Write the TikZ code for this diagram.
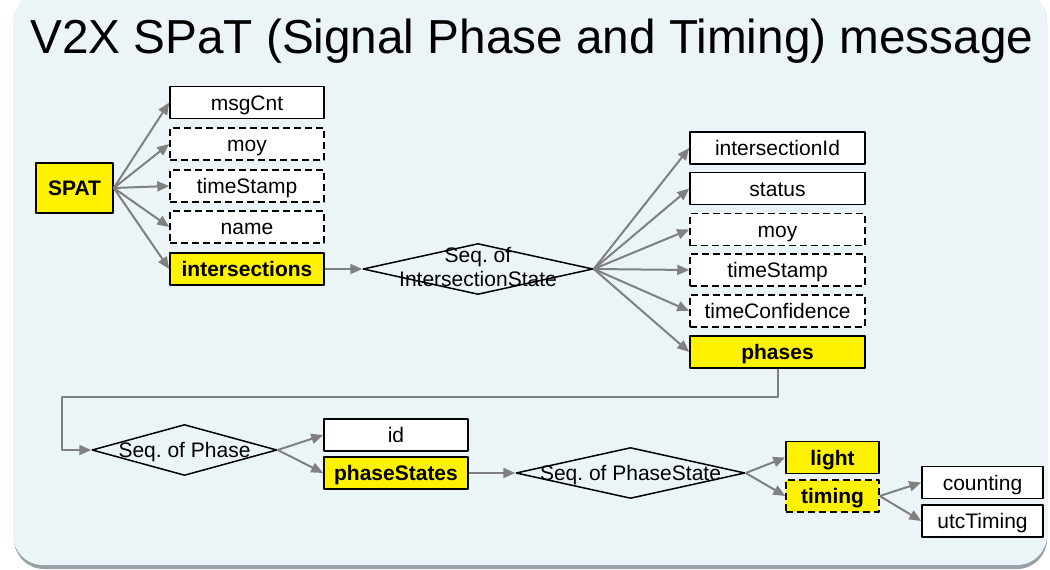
\documentclass[tikz,border=0pt]{standalone}
\usepackage{fontspec}
\setmainfont{Liberation Sans}
\usetikzlibrary{arrows.meta,shapes.geometric}
\frenchspacing
\definecolor{panelblue}{RGB}{235,244,247}
\definecolor{shadowgray}{RGB}{150,160,165}
\definecolor{conngray}{RGB}{128,128,128}
\tikzset{
	field/.style={draw=black,line width=1.5pt,fill=white,minimum height=32pt,inner sep=0pt,
		text height=15pt,text depth=0pt,font=\fontsize{21}{24}\selectfont},
	optfield/.style={field,dash pattern=on 7pt off 4pt},
	keyfield/.style={field,fill=yellow,font=\fontsize{21}{24}\selectfont\bfseries},
	keyopt/.style={keyfield,dash pattern=on 7pt off 4pt},
	seqbox/.style={diamond,draw=black,line width=1.5pt,inner sep=0pt,minimum width=#1,minimum height=51pt},
	seqtext/.style={font=\fontsize{21}{24}\selectfont,inner sep=0pt,align=center},
	conn/.style={draw=conngray,line width=2pt,-{Triangle[length=12pt,width=10pt]}},
}
\begin{document}
\begin{tikzpicture}[x=1pt,y=1pt,line join=round]
	\useasboundingbox (0,0) rectangle (1050,-570);
	% panel
	\fill[shadowgray,rounded corners=30pt] (14,8) rectangle (1047,-569);
	\fill[panelblue,rounded corners=30pt] (13,8) rectangle (1047,-565);
	\node[anchor=base west,inner sep=0pt,font=\fontsize{47.7}{56}\selectfont] (title) at (30,-53)
		{V2X SPaT (Signal Phase and Timing) message};
	% SPAT and its fields
	\node[keyfield,minimum width=77pt,minimum height=50pt] (spat) at (74.5,-188) {SPAT};
	\node[field,minimum width=154pt] (msgcnt) at (247,-102.5) {msgCnt};
	\node[optfield,minimum width=154pt] (moya) at (247,-144) {moy};
	\node[optfield,minimum width=154pt] (stampa) at (247,-186) {timeStamp};
	\node[optfield,minimum width=154pt] (name) at (247,-227) {name};
	\node[keyfield,minimum width=154pt] (inters) at (247,-269) {intersections};
	\foreach \n in {msgcnt,moya,stampa,name,inters}
		\draw[conn] (spat.east) -- (\n.west);
	% IntersectionState
	\node[seqbox=230pt] (seqis) at (478,-269) {};
	\node[seqtext] (seqislbl) at (478,-267.5) {Seq. of\\IntersectionState};
	\draw[conn] (inters.east) -- (seqis.west);
	\node[field,minimum width=175pt] (interid) at (777.5,-148) {intersectionId};
	\node[field,minimum width=175pt] (status) at (777.5,-188.5) {status};
	\node[optfield,minimum width=175pt] (moyb) at (777.5,-229.5) {moy};
	\node[optfield,minimum width=175pt] (stampb) at (777.5,-270) {timeStamp};
	\node[optfield,minimum width=175pt] (confid) at (777.5,-311) {timeConfidence};
	\node[keyfield,minimum width=175pt] (phases) at (777.5,-352) {phases};
	\foreach \n in {interid,status,moyb,stampb,confid,phases}
		\draw[conn] (seqis.east) -- (\n.west);
	% Phase
	\node[seqbox=185pt] (seqph) at (184.5,-450) {};
	\node[seqtext,text height=15pt,text depth=0pt] (seqphlbl) at (seqph) {Seq. of Phase};
	\coordinate (turn) at (62,-397);
	\draw[conn] (phases.south) |- (turn) |- (seqph.west);
	\node[field,minimum width=144pt] (id) at (396,-435) {id};
	\node[keyfield,minimum width=144pt] (phstates) at (396,-473) {phaseStates};
	\foreach \n in {id,phstates}
		\draw[conn] (seqph.east) -- (\n.west);
	% PhaseState
	\node[seqbox=229pt] (seqps) at (630.5,-473) {};
	\node[seqtext,text height=15pt,text depth=0pt] (seqpslbl) at (seqps) {Seq. of PhaseState};
	\draw[conn] (phstates.east) -- (seqps.west);
	\node[keyfield,minimum width=93pt] (light) at (832.5,-457.5) {light};
	\node[keyopt,minimum width=93pt] (timing) at (832.5,-496) {timing};
	\foreach \n in {light,timing}
		\draw[conn] (seqps.east) -- (\n.west);
	\node[field,minimum width=121pt] (counting) at (982.5,-482.5) {counting};
	\node[field,minimum width=121pt] (utc) at (982.5,-521) {utcTiming};
	\foreach \n in {counting,utc}
		\draw[conn] (timing.east) -- (\n.west);
\end{tikzpicture}
\end{document}
